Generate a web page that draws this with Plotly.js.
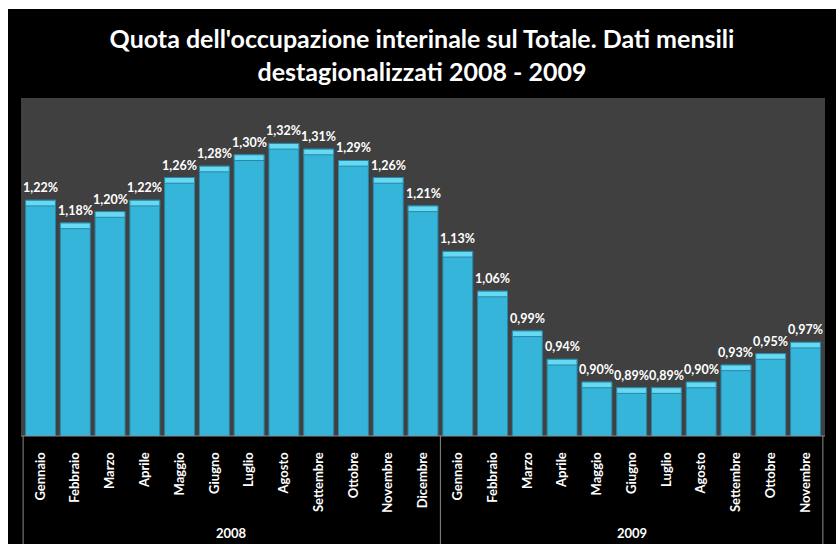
<!DOCTYPE html>
<html>
<head>
<meta charset="utf-8">
<script src="https://cdn.plot.ly/plotly-3.0.1.min.js"></script>
<style>
  html, body { margin: 0; padding: 0; background: #ffffff; width: 836px; height: 544px; overflow: hidden; }
  #chart { position: absolute; left: 8px; top: 9px; width: 828px; height: 535px; }
</style>
</head>
<body>
<div id="chart"></div>
<script>
// ---- Data ----
const months2008 = ["Gennaio","Febbraio","Marzo","Aprile","Maggio","Giugno","Luglio","Agosto","Settembre","Ottobre","Novembre","Dicembre"];
const months2009 = ["Gennaio","Febbraio","Marzo","Aprile","Maggio","Giugno","Luglio","Agosto","Settembre","Ottobre","Novembre"];
const values2008 = [1.22, 1.18, 1.20, 1.22, 1.26, 1.28, 1.30, 1.32, 1.31, 1.29, 1.26, 1.21];
const values2009 = [1.13, 1.06, 0.99, 0.94, 0.90, 0.89, 0.89, 0.90, 0.93, 0.95, 0.97];
const years = ["2008", "2009"];

// ---- Build ----
const keys = [], labels = [], vals = [];
months2008.forEach((m, i) => { keys.push("2008-" + m); labels.push(m); vals.push(values2008[i]); });
months2009.forEach((m, i) => { keys.push("2009-" + m); labels.push(m); vals.push(values2009[i]); });
const texts = vals.map(v => v.toFixed(2).replace(".", ",") + "%");
const capH = 0.010;

const font = "Lato, 'Open Sans', sans-serif";

const mainBars = {
  type: "bar",
  x: keys,
  y: vals,
  marker: { color: "#36b5db", line: { color: "#2a86a6", width: 1 } },
  hoverinfo: "skip"
};
const capBars = {
  type: "bar",
  x: keys,
  y: vals.map(() => capH),
  base: vals.map(v => v - capH),
  marker: { color: "#66daf2", line: { color: "#2a86a6", width: 1 } },
  hoverinfo: "skip"
};

const nA = months2008.length, nB = months2009.length;
const shapes = [-0.5, nA - 0.5, nA + nB - 0.5].map(xv => ({
  type: "line", xref: "x", yref: "paper", x0: xv, x1: xv, y0: 0, y1: -0.33,
  line: { color: "#8a8a8a", width: 1 }
}));
shapes.push({ type: "line", xref: "paper", yref: "paper", x0: 0, x1: 1, y0: 0, y1: 0,
  line: { color: "#8a8a8a", width: 1 } });

const annotations = [
  { x: (nA - 1) / 2, text: years[0] },
  { x: nA + (nB - 1) / 2, text: years[1] }
].map(a => ({
  x: a.x, xref: "x", y: -0.287, yref: "paper", yanchor: "middle", showarrow: false,
  text: a.text, font: { color: "#ffffff", size: 13, family: font, weight: "bold" }
}));
keys.forEach((k, i) => annotations.push({
  x: k, xref: "x", y: vals[i], yref: "y", yanchor: "bottom", yshift: 3,
  showarrow: false, text: texts[i],
  font: { color: "#ffffff", size: 12.5, family: font, weight: "bold" }
}));

const layout = {
  width: 828, height: 535,
  margin: { l: 13, r: 11, t: 89, b: 108 },
  paper_bgcolor: "#000000",
  plot_bgcolor: "#404040",
  showlegend: false,
  barmode: "overlay",
  bargap: 0.14,
  title: {
    text: "Quota dell'occupazione interinale sul Totale. Dati mensili<br>destagionalizzati 2008 - 2009",
    font: { color: "#ffffff", size: 25, family: font, weight: "bold" },
    x: 0.5, xanchor: "center", y: 0.927, yanchor: "middle"
  },
  xaxis: {
    type: "category",
    tickvals: keys, ticktext: labels,
    tickangle: -90,
    tickfont: { color: "#ffffff", size: 13, family: font, weight: "bold" },
    ticks: "outside", ticklen: 10, tickcolor: "rgba(0,0,0,0)",
    showgrid: false, zeroline: false, showline: false,
    fixedrange: true
  },
  yaxis: {
    range: [0.805, 1.40],
    visible: false,
    showgrid: false, zeroline: false,
    fixedrange: true
  },
  shapes: shapes,
  annotations: annotations
};

Plotly.newPlot("chart", [mainBars, capBars], layout, { displayModeBar: false, staticPlot: true });
</script>
</body>
</html>
